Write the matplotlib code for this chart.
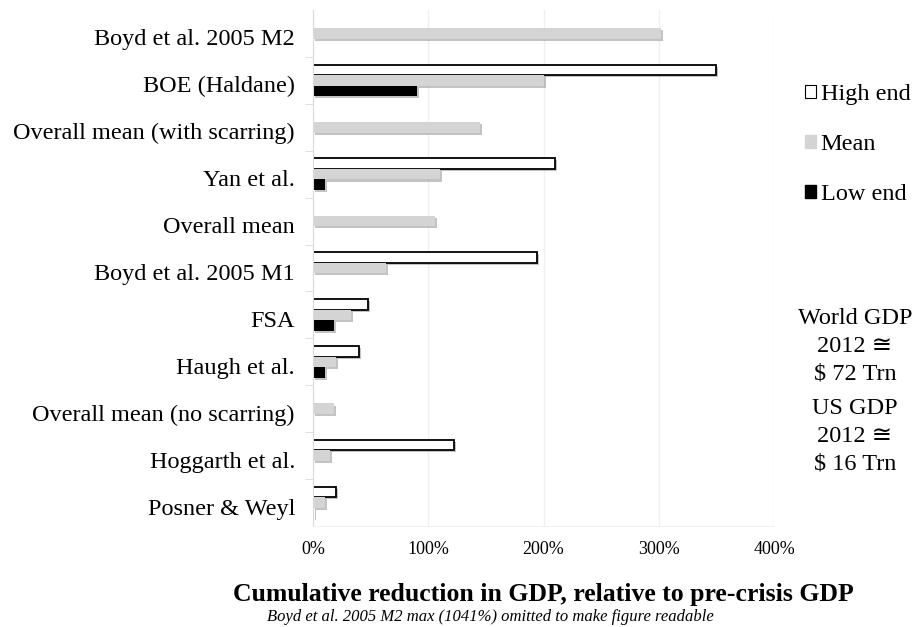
import numpy as np
import matplotlib.pyplot as plt
import matplotlib.patheffects as pe
from matplotlib.patches import Patch

plt.rcParams['font.family'] = ['Liberation Serif', 'DejaVu Sans']

studies = ['Boyd et al. 2005 M2', 'BOE (Haldane)', 'Overall mean (with scarring)',
           'Yan et al.', 'Overall mean', 'Boyd et al. 2005 M1', 'FSA', 'Haugh et al.',
           'Overall mean (no scarring)', 'Hoggarth et al.', 'Posner & Weyl']
# values in percent of pre-crisis GDP, nan = not given
high_end = [np.nan, 350, np.nan, 210, np.nan, 194, 48, 40, np.nan, 122, 20]
mean_val = [302, 200, 145, 110, 106, 63, 33, 20, 18, 15, 10]
low_end = [np.nan, 90, np.nan, 10, np.nan, np.nan, 18, 10, np.nan, np.nan, 0.6]

fig = plt.figure(figsize=(9.17, 6.27), dpi=100)
ax = fig.add_axes([313/917, 1-526/627, (774-313)/917, (526-10)/627])

h = 0.225
shadow = [pe.SimplePatchShadow(offset=(1.5, -1.5), shadow_rgbFace='#888888', alpha=0.5), pe.Normal()]
y = np.arange(len(studies))

def draw(vals, off, face, edge, lw):
	v = np.array(vals, dtype=float)
	ok = ~np.isnan(v)
	bars = ax.barh(y[ok]+off, v[ok], height=h, color=face, edgecolor=edge, linewidth=lw)
	for b in bars:
		b.set_path_effects(shadow)

draw(high_end, -h, 'white', 'black', 1.3)
draw(mean_val, 0, '#d4d4d4', '#d4d4d4', 0)
draw(low_end, h, 'black', 'black', 0)

ax.set_ylim(len(studies)-0.5, -0.5)
ax.set_xlim(0, 400)
# labels sit a little below the bar group centre
ax.set_yticks(y+0.085)
ax.set_yticklabels(studies, fontsize=17.5, va='center_baseline')
ax.set_yticks(y[:-1]+0.5, minor=True)
ax.tick_params(axis='y', which='major', length=0, pad=13)
ax.tick_params(axis='y', which='minor', length=6, color='#d9d9d9')
ax.set_xticks([0, 100, 200, 300, 400])
ax.set_xticklabels(['0%', '100%', '200%', '300%', '400%'], fontsize=13)
ax.tick_params(axis='x', length=0, pad=11)
ax.grid(axis='x', color='#f0f0f0', linewidth=1)
ax.set_axisbelow(True)
for s in ['top', 'right']:
	ax.spines[s].set_visible(False)
ax.spines['left'].set_color('#d9d9d9')
ax.spines['bottom'].set_color('#f0f0f0')

handles = [Patch(facecolor='white', edgecolor='black', linewidth=0.8),
           Patch(facecolor='#d4d4d4', edgecolor='#d4d4d4'),
           Patch(facecolor='black', edgecolor='black')]
fig.legend(handles, ['High end', 'Mean', 'Low end'], loc='upper left',
           bbox_to_anchor=(783/917, 1-62/627), frameon=False, fontsize=17.5,
           handlelength=0.45, handleheight=0.45, handletextpad=0.2, labelspacing=1.2)

fig.text(855/917, 1-346/627, 'World GDP\n2012 \u2245\n$ 72 Trn', ha='center', va='center',
         fontsize=17.5, linespacing=1.42)
fig.text(855/917, 1-436/627, 'US GDP\n2012 \u2245\n$ 16 Trn', ha='center', va='center',
         fontsize=17.5, linespacing=1.42)

fig.text(543/917, 1-595/627, 'Cumulative reduction in GDP, relative to pre-crisis GDP',
         ha='center', va='center', fontsize=18.5, fontweight='bold')
fig.text(490/917, 1-617/627, 'Boyd et al. 2005 M2 max (1041%) omitted to make figure readable',
         ha='center', va='center', fontsize=12, style='italic')

fig.savefig('out.png', dpi=100)
